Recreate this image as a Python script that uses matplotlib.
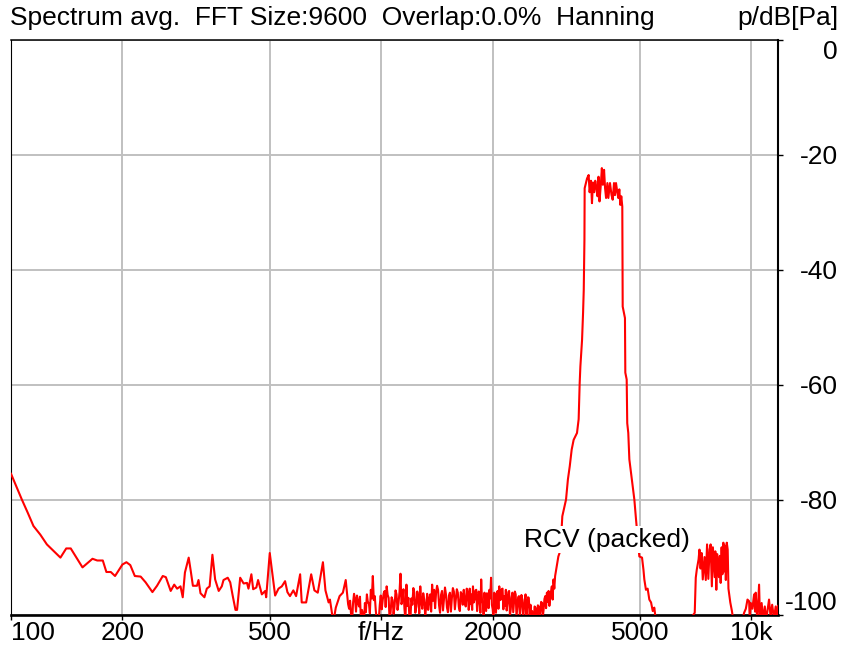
import numpy as np
import matplotlib
matplotlib.use('Agg')
import matplotlib.pyplot as plt

plt.rcParams['font.family'] = ['Liberation Sans', 'DejaVu Sans']

# --- data (Hz, dB) ---
low_f = [100, 107, 111, 115, 120, 125, 136, 141, 145, 156,
         166, 171, 177, 181, 186, 191, 200, 205, 210, 216,
         224, 231, 241, 248, 257, 262, 270, 276, 281, 287,
         291, 295, 302, 306, 310, 318, 321, 325, 333, 338,
         344, 350, 356, 364, 371, 375, 385, 391, 397, 404,
         408, 416, 425, 434, 438, 446, 451, 460, 465, 476,
         486, 489, 500, 509, 517, 528, 539, 550, 558, 567,
         579, 589, 604, 610, 627, 647, 660, 674, 696, 707,
         721, 727, 736, 742, 754, 772, 788, 802]
low_db = [-75.5, -80, -82.3, -84.6, -86.1, -87.8, -90.1, -88.5, -88.5, -91.8,
          -90.3, -90.6, -90.6, -92.6, -92.6, -93.3, -91.3, -90.9, -91.4, -93.3,
          -93.4, -94.4, -96.1, -95, -93.3, -93.5, -95.9, -94.8, -95.5, -95.1,
          -97, -92.7, -90.1, -92.5, -95, -95, -94, -96.3, -97, -95.5,
          -95.1, -89.6, -93.9, -95.9, -95.1, -94, -93.6, -94.4, -96.7, -99.2,
          -99.2, -93.6, -94.6, -94.5, -95.5, -93, -95.6, -95.3, -94, -96.5,
          -95.9, -97, -89.3, -93.3, -96.7, -95.5, -95.1, -94.2, -96.1, -96.8,
          -95.8, -96.8, -93, -97.9, -97.9, -93, -95.8, -96.2, -90.9, -95.8,
          -97.9, -97.4, -99.7, -101.5, -98.8, -96.8, -96.2, -94]

# dense noise floor, 809 Hz .. 1734 Hz
noise_lo_db = [-96.5, -98.2, -99, -97.6, -100, -101.5, -98, -96.4, -97.3, -99.5,
               -96.7, -97.8, -98.6, -96.9, -101, -99.2, -100, -101.5, -98, -99.6,
               -96.5, -97.9, -98, -99.8, -95.7, -97.2, -93.3, -97.5, -96.8, -99.3,
               -101, -101.5, -101, -98.4, -96.7, -99.1, -97.5, -96.3, -95.9, -98.7,
               -95.1, -96.6, -97.1, -101, -99.6, -97, -97.5, -99.9, -98.6, -95.8,
               -96.5, -99.2, -98, -96.1, -92.9, -98.2, -97.5, -95.6, -99, -101,
               -94.8, -98.5, -97.1, -100.5, -101, -97.2, -98.3, -95.4, -96.2, -99.7,
               -98.6, -96, -97.1, -99.8, -95.1, -97.8, -99, -96.3, -97.4, -100.2,
               -98.6, -96.4, -99.2, -97.3, -96.5, -99.5, -94.8, -97.6, -95.7, -98.9,
               -96.2, -95, -95.7, -98.4, -99.7, -96.6, -95.9, -99.3, -97.4, -95.3,
               -96.5, -98.8, -99.6, -96.7, -96.2, -99.5, -97.1, -95.4, -96, -99.1,
               -97.4, -95.6, -96.2, -98.7, -99.4, -96.1, -96.5, -98.3, -95.7, -97.9,
               -98.6, -95.5, -96.2, -99.2, -97.7]
# dense noise floor, 1734 Hz .. 2950 Hz
noise_hi_db = [-95.5, -98.1, -96.5, -99.2, -95.1, -97.9, -97.4, -95.8, -95.7, -99.4,
               -98, -96, -96.8, -99.7, -93.9, -97.6, -98, -100.6, -96.2, -98.4,
               -99.4, -96.3, -96.5, -98.9, -95.7, -97.2, -93.6, -98.3, -99.1, -101,
               -96.2, -98.1, -99.7, -96.4, -95.9, -99, -95.1, -97.5, -97.4, -95.6,
               -95.5, -99.1, -96.8, -98.5, -95.7, -99.3, -98, -96.1, -95.9, -100.2,
               -99.1, -97, -96.2, -99.6, -97.7, -96, -96.5, -100.4, -98.8, -97,
               -96.8, -100.1, -98.3, -96.6, -97.4, -101, -99.1, -97.5, -96.5, -100.5,
               -98.6, -97, -97.1, -101, -98.3, -99.8, -99.4, -101.5, -101, -98.6,
               -98.8, -101.5, -99.7, -98.4, -98.6, -101, -99.4, -97.8, -98, -100.5,
               -99.1, -97.3, -96.8, -98.9, -96.2, -97.8, -95.9, -98.5, -97.1, -96,
               -95.1, -97.4, -93.9, -95.5, -93.3]

peak_f = [2980, 3010, 3032, 3060, 3085, 3157, 3194, 3231, 3270, 3310,
          3380, 3415, 3437, 3452, 3488, 3510, 3525, 3540, 3545, 3598,
          3634, 3656, 3687, 3710, 3733, 3763, 3786, 3810, 3840, 3864,
          3888, 3920, 3945, 3970, 4000, 4025, 4050, 4083, 4108, 4150,
          4190, 4220, 4255, 4280, 4308, 4343, 4370, 4398, 4425, 4452,
          4480, 4491, 4555, 4565, 4604, 4620, 4650, 4681, 4780, 4829,
          4880, 4935, 4981, 5065, 5110, 5138, 5190, 5245, 5300, 5358,
          5414, 5467, 5530]
peak_db = [-91.6, -89.9, -89.3, -87, -82.9, -80, -76.5, -74.2, -71.3, -69.6,
           -68.4, -66, -59.7, -56.8, -52.2, -47.5, -43.5, -34.8, -25.8, -24.1,
           -23.5, -26.5, -24.5, -28.4, -24.8, -26.5, -24.5, -25.5, -27.2, -23.8,
           -28.1, -25.2, -22.3, -25.2, -22.6, -25.8, -27.5, -24.9, -27.5, -24.9,
           -27, -27.8, -24.9, -27, -24.9, -26.5, -27.5, -26, -28.7, -27.2,
           -29, -46.4, -48.4, -57.9, -59.1, -66.7, -68.4, -73, -77.7, -80,
           -83.5, -87, -89.9, -90.1, -92.2, -93.9, -95.7, -95.5, -97.4, -97.9,
           -99.4, -98.8, -101.5]

hump_f = [6300, 7030, 7075, 7120, 7200, 7240, 7290, 7340, 7390, 7470,
          7530, 7590, 7650, 7710, 7760, 7820, 7870, 7960, 7990, 8040,
          8090, 8170, 8220, 8260, 8310, 8350, 8400, 8450, 8490, 8530,
          8580, 8630, 8670, 8770, 8860, 8960]
hump_db = [-104, -99.7, -93.6, -92.2, -90.4, -88.7, -92, -89.3, -93.9, -90,
           -94, -87.8, -93.8, -88.7, -87.8, -95.1, -88.3, -93.5, -89, -95.7,
           -89.5, -93.5, -89.8, -94.5, -88.3, -93, -87.5, -92.5, -88, -94,
           -87.5, -88.7, -95.5, -97.9, -99.4, -101.5]

tail_f = [9200, 9557, 9660, 9760, 9860, 9900, 9960, 10060, 10170, 10230,
          10270, 10370, 10490, 10550, 10660, 10760, 10870, 10960, 11160, 11270,
          11380, 11510, 11630, 11700, 11800]
tail_db = [-104, -99.7, -99, -97.4, -97.7, -101, -98, -99, -96.5, -99.5,
           -96.2, -101, -94.8, -101, -98, -101, -98.6, -101, -97.4, -100.5,
           -98.3, -100.7, -98.6, -101, -98.5]

xticks = [100, 200, 500, 1000, 2000, 5000, 10000]
xtick_labels = ['100', '200', '500', 'f/Hz', '2000', '5000', '10k']
yticks = [0, -20, -40, -60, -80, -100]

# noise floor points sit on the FFT bins, spread evenly on the log axis
noise_lo_f = np.geomspace(809, 1734, len(noise_lo_db))
noise_hi_f = np.geomspace(1734, 2950, len(noise_hi_db))

freq = np.concatenate([low_f, noise_lo_f, noise_hi_f, peak_f, hump_f, tail_f])
level = np.concatenate([low_db, noise_lo_db, noise_hi_db, peak_db, hump_db, tail_db])

fs = 19
fig = plt.figure(figsize=(8.44, 6.45), dpi=100)
ax = fig.add_axes([11 / 844, 30.5 / 645, 767 / 844, 574.5 / 645])

ax.plot(freq, level, color='#ff0000', lw=1.5, zorder=3)

ax.set_xscale('log')
ax.set_xlim(100, 11800)
ax.set_ylim(-100, 0)

ax.set_xticks(xticks)
ax.set_xticklabels(xtick_labels, fontsize=fs)
ax.xaxis.set_minor_locator(matplotlib.ticker.NullLocator())
ax.xaxis.get_majorticklabels()[0].set_horizontalalignment('left')
ax.tick_params(axis='x', direction='out', length=3.5, width=1, pad=1.5)

ax.yaxis.tick_right()
ax.set_yticks(yticks)
ax.set_yticklabels([str(v) for v in yticks], fontsize=fs)
ax.tick_params(axis='y', direction='out', length=3.6, width=1, pad=39.5)
for lab in ax.yaxis.get_majorticklabels():
    lab.set_horizontalalignment('right')
ylabs = ax.yaxis.get_majorticklabels()
ylabs[0].set_verticalalignment('top')
ylabs[-1].set_verticalalignment('bottom')

ax.grid(True, color='#c0c0c0', lw=1.4, zorder=0)
ax.set_axisbelow(True)

ax.spines['top'].set_linewidth(1.1)
ax.spines['right'].set_linewidth(1.5)
ax.spines['bottom'].set_linewidth(1.9)
ax.spines['left'].set_linewidth(0.8)

ax.text(4080, -87, 'RCV (packed)', fontsize=fs, ha='center', va='center', zorder=4,
        bbox=dict(facecolor='white', edgecolor='none', pad=1))

fig.text(10 / 844, 1 - 18 / 645, 'Spectrum avg.  FFT Size:9600  Overlap:0.0%  Hanning',
         fontsize=fs, ha='left', va='center')
fig.text(838 / 844, 1 - 18 / 645, 'p/dB[Pa]', fontsize=fs, ha='right', va='center')

fig.savefig('out.png', dpi=100)
